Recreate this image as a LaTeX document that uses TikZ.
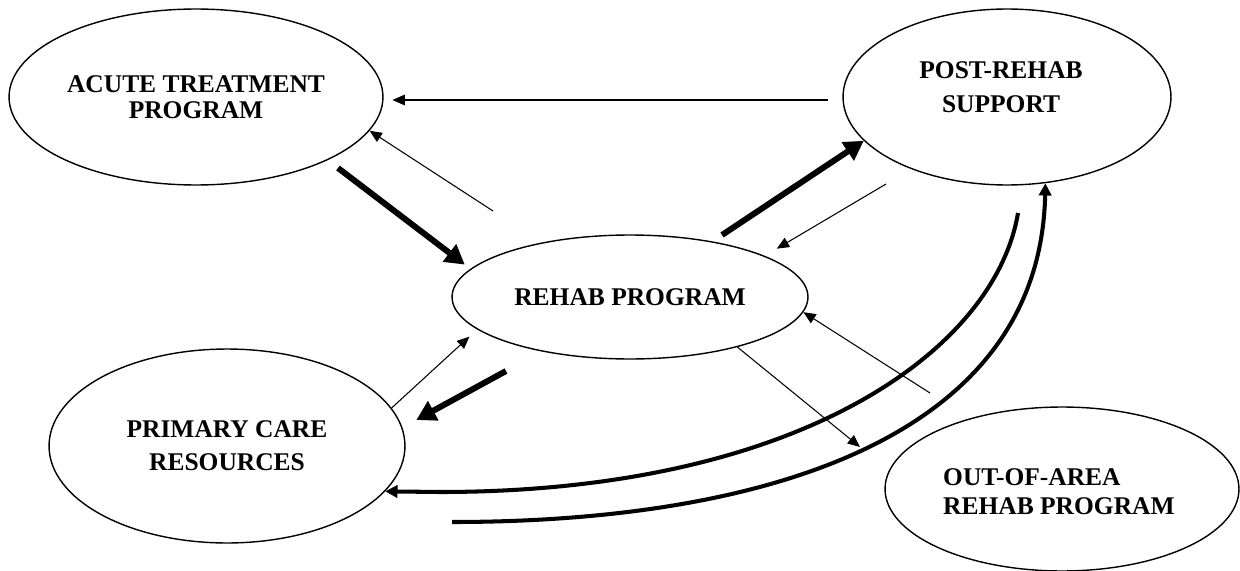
\documentclass[tikz,border=0pt]{standalone}
\usepackage{fontspec}
\setmainfont{Liberation Serif}
\usetikzlibrary{shapes.geometric,arrows.meta}
\begin{document}
\begin{tikzpicture}[x=0.02cm, y=-0.02cm, line join=round,
		font=\fontsize{14.5}{14.6}\selectfont\bfseries,
		blob/.style={ellipse, draw, line width=0.8pt, inner sep=0pt, align=center},
		thin arrow/.style={-{Triangle[length=7pt,width=6pt]}, line width=0.6pt},
		fat arrow/.style={-{Triangle[length=11pt,width=12pt]}, line width=3.4pt},
		loop arrow/.style={-{Triangle[length=7pt,width=7pt]}, line width=2.3pt}]
	\useasboundingbox (0,0) rectangle (1240,571);
	% the five programs
	\node[blob, minimum width=7.48cm, minimum height=3.52cm] (acute) at (196,97) {ACUTE TREATMENT\\PROGRAM};
	\node[blob, minimum width=6.56cm, minimum height=3.52cm] (post) at (1007,97) {};
	\node[align=center] (postT) at (1001,87) {POST-REHAB\\[4.5pt]SUPPORT};
	\node[blob, minimum width=7.12cm, minimum height=2.48cm] (rehab) at (630,297) {REHAB PROGRAM};
	\node[blob, minimum width=7.12cm, minimum height=3.88cm] (primary) at (227,446) {PRIMARY CARE\\[4pt]RESOURCES};
	\node[blob, minimum width=7.08cm, minimum height=3.28cm] (out) at (1062,489) {};
	\node[align=left, anchor=west] (outT) at (937,492) {OUT-OF-AREA\\[2pt]REHAB PROGRAM};
	% free ends
	\coordinate (a1) at (828,100);
	\coordinate (a2) at (493,211);
	\coordinate (a3) at (338,168);
	\coordinate (a4) at (722,235);
	\coordinate (a5) at (886,184);
	\coordinate (a6) at (930,393);
	\coordinate (a7) at (860,447);
	\coordinate (a8) at (506,371);
	\coordinate (a10) at (1018,213);
	\coordinate (a11) at (452,522);
	% flows
	\draw[thin arrow, shorten >=5pt] (a1) -- (a1 -| acute.east);
	\draw[thin arrow] (a2) -- (acute.-11);
	\draw[fat arrow, shorten >=4pt] (a3) -- (rehab.170);
	\draw[fat arrow] (a4) -- (post.197);
	\draw[thin arrow, shorten >=8pt] (a5) -- (rehab.17);
	\draw[thin arrow] (a6) -- (rehab.-5);
	\draw[thin arrow] (rehab.-25) -- (a7);
	\draw[thin arrow, shorten >=6pt] (primary.13) -- (rehab.192);
	\draw[fat arrow, shorten >=9pt] (a8) -- (primary.6);
	\draw[loop arrow] (a10) .. controls (995,350) and (800,492) .. (440,492) -- (primary.-16);
	\draw[loop arrow] (a11) .. controls (760,522) and (1040,440) .. (post.-66);
\end{tikzpicture}
\end{document}
